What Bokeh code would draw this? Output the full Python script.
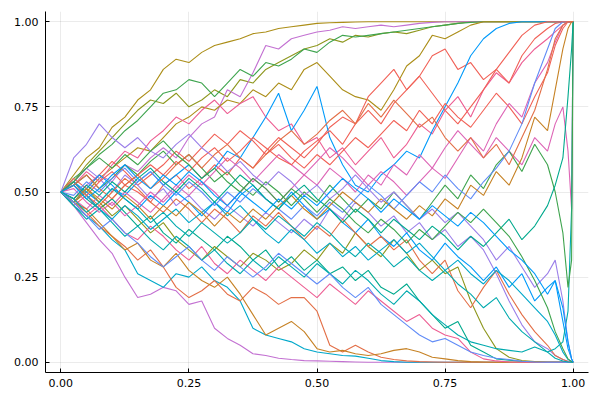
from bokeh.plotting import figure
from bokeh.models import Range1d, FixedTicker, PrintfTickFormatter
from bokeh.embed import file_html
from bokeh.resources import INLINE

# time grid (shared by every path)
t_grid = [0.0, 0.025, 0.05, 0.075, 0.1, 0.125, 0.15, 0.175, 0.2, 0.225, 0.25,
          0.275, 0.3, 0.325, 0.35, 0.375, 0.4, 0.425, 0.45, 0.475, 0.5, 0.525,
          0.55, 0.575, 0.6, 0.625, 0.65, 0.675, 0.7, 0.725, 0.75, 0.775, 0.8,
          0.825, 0.85, 0.875, 0.9, 0.925, 0.95, 0.965, 0.98, 0.99, 0.997, 1.0]

path_01 = [0.50,0.55,0.60,0.63,0.69,0.72,0.77,0.80,0.86,0.89,0.88,
           0.91,0.93,0.94,0.95,0.965,0.97,0.98,0.985,0.99,0.995,0.997,
           0.998,0.999,1,1,1,1,1,1,1,1,1,
           1,1,1,1,1,1,1,1,1,1,1]
path_02 = [0.50,0.53,0.58,0.62,0.66,0.70,0.74,0.77,0.76,0.79,0.75,
           0.77,0.80,0.78,0.83,0.82,0.86,0.88,0.90,0.92,0.93,0.95,
           0.94,0.96,0.955,0.965,0.97,0.965,0.975,0.985,0.99,0.995,1,
           1,1,1,1,1,1,1,1,1,1,1]
path_03 = [0.50,0.48,0.52,0.55,0.53,0.58,0.56,0.60,0.63,0.60,0.66,
           0.70,0.72,0.80,0.78,0.85,0.93,0.92,0.95,0.96,0.97,0.975,
           0.985,0.98,0.985,0.99,0.985,0.99,0.995,0.998,1,1,1,
           1,1,1,1,1,1,1,1,1,1,1]
path_04 = [0.50,0.54,0.57,0.61,0.64,0.68,0.71,0.75,0.79,0.80,0.83,
           0.82,0.78,0.82,0.86,0.84,0.88,0.87,0.89,0.92,0.91,0.94,
           0.96,0.955,0.96,0.965,0.97,0.975,0.98,0.985,0.99,0.995,0.998,
           1,1,1,1,1,1,1,1,1,1,1]
path_05 = [0.50,0.47,0.50,0.54,0.57,0.60,0.63,0.62,0.66,0.70,0.72,
           0.75,0.74,0.77,0.76,0.80,0.78,0.82,0.80,0.86,0.88,0.84,
           0.80,0.78,0.77,0.74,0.80,0.87,0.90,0.96,0.95,0.97,0.99,
           1,1,1,1,1,1,1,1,1,1,1]
path_06 = [0.50,0.52,0.56,0.53,0.58,0.62,0.60,0.65,0.68,0.72,0.70,
           0.74,0.77,0.73,0.76,0.78,0.72,0.68,0.70,0.64,0.66,0.60,
           0.63,0.58,0.62,0.66,0.60,0.64,0.70,0.67,0.74,0.78,0.72,
           0.80,0.85,0.82,0.88,0.92,0.95,0.97,0.99,1,1,1]
path_07 = [0.50,0.46,0.49,0.45,0.48,0.52,0.50,0.47,0.52,0.55,0.51,
           0.54,0.58,0.55,0.60,0.57,0.62,0.66,0.63,0.60,0.64,0.69,
           0.72,0.70,0.78,0.82,0.86,0.80,0.84,0.90,0.92,0.86,0.88,
           0.83,0.86,0.82,0.90,0.95,0.98,0.995,1,1,1,1]
path_08 = [0.50,0.53,0.50,0.47,0.51,0.49,0.53,0.56,0.52,0.55,0.58,
           0.54,0.57,0.62,0.60,0.66,0.72,0.79,0.68,0.74,0.81,0.66,
           0.58,0.52,0.50,0.55,0.58,0.62,0.60,0.68,0.75,0.82,0.90,
           0.95,0.98,0.995,1,1,1,1,1,1,1,1]
path_09 = [0.50,0.54,0.51,0.55,0.59,0.56,0.52,0.55,0.58,0.62,0.59,
           0.63,0.67,0.64,0.68,0.65,0.61,0.64,0.60,0.57,0.61,0.58,
           0.62,0.66,0.63,0.67,0.71,0.68,0.74,0.70,0.76,0.72,0.69,
           0.74,0.79,0.75,0.70,0.78,0.85,0.93,0.98,1,1,1]
path_10 = [0.50,0.48,0.45,0.49,0.46,0.50,0.47,0.44,0.48,0.52,0.49,
           0.53,0.50,0.46,0.50,0.54,0.51,0.47,0.51,0.55,0.52,0.57,
           0.54,0.50,0.55,0.52,0.58,0.55,0.61,0.57,0.63,0.68,0.64,
           0.60,0.66,0.62,0.58,0.66,0.62,0.70,0.75,0.62,0.45,1]
path_11 = [0.50,0.46,0.41,0.36,0.32,0.25,0.19,0.20,0.22,0.21,0.17,
           0.18,0.10,0.07,0.05,0.025,0.02,0.012,0.008,0.005,0.004,0.003,
           0.002,0.001,0,0,0,0,0,0,0,0,0,
           0,0,0,0,0,0,0,0,0,0,0]
path_12 = [0.50,0.46,0.43,0.40,0.36,0.33,0.26,0.24,0.22,0.26,0.25,
           0.28,0.24,0.22,0.18,0.10,0.08,0.07,0.06,0.04,0.03,0.025,
           0.02,0.018,0.012,0.005,0.002,0,0,0,0,0,0,
           0,0,0,0,0,0,0,0,0,0,0]
path_13 = [0.50,0.47,0.44,0.40,0.37,0.34,0.30,0.33,0.28,0.22,0.19,
           0.21,0.24,0.20,0.18,0.22,0.20,0.17,0.19,0.19,0.15,0.05,
           0.03,0.05,0.03,0.015,0.008,0.004,0.002,0.001,0,0,0,
           0,0,0,0,0,0,0,0,0,0,0]
path_14 = [0.50,0.47,0.45,0.41,0.37,0.33,0.35,0.30,0.28,0.32,0.27,
           0.24,0.22,0.25,0.20,0.14,0.08,0.10,0.12,0.09,0.04,0.03,
           0.035,0.025,0.02,0.025,0.035,0.04,0.03,0.015,0.01,0.005,0.002,
           0.001,0,0,0,0,0,0,0,0,0,0]
path_15 = [0.50,0.52,0.48,0.45,0.48,0.44,0.40,0.43,0.38,0.35,0.39,
           0.36,0.33,0.37,0.34,0.30,0.33,0.28,0.31,0.27,0.30,0.26,
           0.28,0.24,0.27,0.22,0.20,0.23,0.18,0.14,0.10,0.12,0.05,
           0.03,0.01,0.006,0.003,0.001,0,0,0,0,0,0]
path_16 = [0.50,0.48,0.51,0.47,0.43,0.46,0.42,0.38,0.41,0.36,0.33,
           0.30,0.34,0.31,0.28,0.32,0.30,0.27,0.29,0.33,0.30,0.35,
           0.32,0.38,0.34,0.31,0.36,0.32,0.27,0.30,0.26,0.28,0.18,
           0.10,0.04,0.015,0.005,0.002,0,0,0,0,0,0]
path_17 = [0.50,0.47,0.43,0.46,0.42,0.38,0.36,0.40,0.37,0.33,0.30,
           0.34,0.29,0.26,0.30,0.27,0.24,0.28,0.25,0.22,0.19,0.23,
           0.20,0.17,0.21,0.18,0.15,0.12,0.14,0.10,0.08,0.07,0.03,
           0.01,0.004,0.001,0,0,0,0,0,0,0,0]
path_18 = [0.50,0.53,0.57,0.54,0.50,0.55,0.52,0.48,0.51,0.46,0.49,
           0.45,0.42,0.46,0.43,0.40,0.44,0.41,0.38,0.42,0.39,0.45,
           0.42,0.47,0.44,0.40,0.43,0.38,0.41,0.36,0.39,0.34,0.37,
           0.33,0.26,0.18,0.11,0.06,0.04,0.02,0.008,0.003,0.001,0]
path_19 = [0.50,0.47,0.51,0.55,0.52,0.48,0.45,0.49,0.46,0.50,0.47,
           0.43,0.47,0.44,0.49,0.52,0.48,0.45,0.50,0.46,0.42,0.45,
           0.41,0.38,0.42,0.37,0.34,0.38,0.33,0.30,0.35,0.31,0.28,
           0.24,0.28,0.22,0.26,0.18,0.22,0.24,0.12,0.04,0.01,0]
path_20 = [0.50,0.53,0.49,0.46,0.50,0.54,0.51,0.47,0.44,0.48,0.45,
           0.41,0.45,0.42,0.38,0.43,0.40,0.44,0.40,0.36,0.40,0.37,
           0.42,0.38,0.34,0.37,0.33,0.36,0.30,0.26,0.30,0.21,0.16,
           0.22,0.27,0.20,0.14,0.09,0.05,0.02,0.008,0.002,0,0]
path_21 = [0.50,0.46,0.42,0.45,0.41,0.37,0.40,0.36,0.33,0.37,0.34,
           0.30,0.33,0.29,0.26,0.30,0.27,0.31,0.28,0.25,0.29,0.26,
           0.23,0.27,0.24,0.20,0.17,0.21,0.18,0.14,0.11,0.08,0.06,
           0.05,0.04,0.035,0.03,0.045,0.03,0.04,0.06,0.15,0.45,1]
path_22 = [0.50,0.52,0.55,0.51,0.54,0.58,0.55,0.59,0.62,0.58,0.61,
           0.57,0.53,0.56,0.52,0.49,0.53,0.50,0.46,0.50,0.47,0.52,
           0.48,0.44,0.48,0.45,0.50,0.46,0.42,0.47,0.52,0.48,0.55,
           0.51,0.58,0.62,0.56,0.64,0.58,0.50,0.38,0.22,0.30,1]
path_23 = [0.50,0.51,0.47,0.44,0.47,0.43,0.46,0.50,0.47,0.51,0.55,
           0.52,0.56,0.60,0.57,0.53,0.57,0.61,0.58,0.55,0.59,0.63,
           0.60,0.56,0.52,0.56,0.53,0.49,0.53,0.57,0.54,0.60,0.66,
           0.62,0.70,0.76,0.72,0.82,0.88,0.94,0.99,1,1,1]
path_24 = [0.50,0.53,0.49,0.45,0.42,0.46,0.43,0.39,0.42,0.45,0.41,
           0.44,0.47,0.43,0.46,0.42,0.38,0.35,0.39,0.36,0.32,0.35,
           0.31,0.34,0.30,0.33,0.36,0.32,0.35,0.31,0.27,0.30,0.26,
           0.23,0.27,0.24,0.20,0.16,0.12,0.08,0.03,0.008,0.002,0]
path_25 = [0.50,0.49,0.53,0.50,0.54,0.57,0.53,0.56,0.52,0.49,0.53,
           0.50,0.46,0.50,0.47,0.51,0.48,0.45,0.42,0.46,0.43,0.47,
           0.44,0.48,0.52,0.49,0.45,0.49,0.53,0.50,0.55,0.51,0.48,
           0.53,0.57,0.62,0.70,0.82,0.92,0.98,1,1,1,1]
path_26 = [0.50,0.52,0.49,0.53,0.56,0.52,0.55,0.58,0.55,0.59,0.56,
           0.60,0.63,0.59,0.62,0.66,0.63,0.60,0.58,0.62,0.65,0.68,
           0.64,0.70,0.74,0.70,0.76,0.80,0.84,0.79,0.74,0.70,0.75,
           0.80,0.86,0.91,0.96,0.99,1,1,1,1,1,1]
path_27 = [0.50,0.47,0.51,0.48,0.45,0.49,0.46,0.42,0.46,0.43,0.47,
           0.44,0.40,0.44,0.41,0.45,0.42,0.46,0.49,0.45,0.42,0.46,
           0.50,0.47,0.44,0.48,0.45,0.42,0.46,0.43,0.48,0.45,0.52,
           0.49,0.56,0.52,0.60,0.72,0.68,0.80,0.92,0.98,1,1]
path_28 = [0.50,0.60,0.64,0.70,0.66,0.63,0.66,0.62,0.60,0.64,0.67,
           0.63,0.60,0.56,0.59,0.55,0.52,0.56,0.53,0.49,0.52,0.48,
           0.51,0.55,0.51,0.47,0.50,0.46,0.42,0.45,0.41,0.44,0.40,
           0.36,0.30,0.34,0.28,0.22,0.26,0.30,0.18,0.06,0.01,0]
path_29 = [0.50,0.48,0.52,0.49,0.53,0.50,0.54,0.57,0.53,0.50,0.54,
           0.51,0.47,0.51,0.55,0.52,0.48,0.45,0.49,0.52,0.48,0.45,
           0.41,0.45,0.42,0.38,0.42,0.39,0.36,0.40,0.37,0.33,0.37,
           0.34,0.38,0.42,0.36,0.40,0.46,0.52,0.60,0.78,0.92,1]
path_30 = [0.50,0.47,0.43,0.39,0.42,0.38,0.35,0.31,0.28,0.31,0.34,
           0.30,0.27,0.31,0.28,0.25,0.28,0.32,0.29,0.26,0.23,0.26,
           0.22,0.19,0.22,0.17,0.14,0.11,0.08,0.06,0.07,0.05,0.03,
           0.02,0.012,0.008,0.003,0.001,0,0,0,0,0,0]
path_31 = [0.50,0.52,0.55,0.51,0.48,0.52,0.55,0.51,0.54,0.58,0.61,
           0.57,0.61,0.64,0.60,0.57,0.61,0.65,0.68,0.64,0.67,0.71,
           0.74,0.70,0.76,0.72,0.77,0.73,0.69,0.72,0.66,0.62,0.66,
           0.60,0.64,0.58,0.66,0.74,0.86,0.95,0.99,1,1,1]
path_32 = [0.50,0.48,0.44,0.47,0.51,0.48,0.45,0.41,0.44,0.40,0.37,
           0.41,0.38,0.35,0.38,0.42,0.39,0.43,0.40,0.37,0.41,0.38,
           0.34,0.31,0.35,0.32,0.28,0.31,0.27,0.24,0.27,0.23,0.20,
           0.16,0.19,0.13,0.09,0.06,0.03,0.012,0.004,0.001,0,0]
path_33 = [0.50,0.53,0.57,0.60,0.57,0.61,0.58,0.62,0.65,0.61,0.58,
           0.54,0.57,0.53,0.50,0.54,0.51,0.47,0.51,0.48,0.44,0.48,
           0.45,0.41,0.38,0.42,0.39,0.35,0.39,0.36,0.40,0.44,0.41,
           0.45,0.41,0.37,0.31,0.24,0.16,0.09,0.04,0.01,0.002,0]
path_34 = [0.50,0.52,0.48,0.51,0.55,0.58,0.54,0.51,0.55,0.52,0.56,
           0.53,0.49,0.46,0.50,0.47,0.44,0.48,0.45,0.49,0.46,0.50,
           0.54,0.51,0.48,0.44,0.48,0.45,0.42,0.46,0.43,0.40,0.44,
           0.41,0.37,0.33,0.30,0.26,0.20,0.24,0.16,0.06,0.01,0]

x_ticks = [0.0, 0.25, 0.5, 0.75, 1.0]
y_ticks = [0.0, 0.25, 0.5, 0.75, 1.0]

paths = [path_01, path_02, path_03, path_04, path_05, path_06, path_07, path_08,
         path_09, path_10, path_11, path_12, path_13, path_14, path_15, path_16,
         path_17, path_18, path_19, path_20, path_21, path_22, path_23, path_24,
         path_25, path_26, path_27, path_28, path_29, path_30, path_31, path_32,
         path_33, path_34]

# styling: colours per path (Plots.jl default palette)
BLUE, ORANGE, GREEN, PURPLE = "#009AFA", "#E36F47", "#3EA44E", "#C371D2"
OLIVE, TEAL, PINK, BROWN = "#AC8E18", "#00AAAE", "#ED5E93", "#C68225"
TEALG, OLIVEG, CYAN, LAV = "#00A98D", "#8E971E", "#00A8CA", "#9B7FE9"
PERI, SALMON, MAGENTA = "#618CF7", "#F16157", "#DD65B6"
line_colors = [OLIVE, OLIVEG, PURPLE, GREEN, OLIVE, PINK, SALMON, BLUE,
               SALMON, MAGENTA, PURPLE, CYAN, ORANGE, BROWN, TEALG, OLIVEG,
               PINK, LAV, BLUE, ORANGE, TEAL, GREEN, MAGENTA, CYAN,
               PERI, SALMON, BROWN, LAV, TEALG, PERI, ORANGE, TEAL,
               GREEN, BLUE]

p = figure(width=592, height=392, output_backend="svg", toolbar_location=None,
           x_range=Range1d(-0.03, 1.03), y_range=Range1d(-0.03, 1.03),
           min_border_left=45, min_border_right=4, min_border_top=11,
           min_border_bottom=20)
p.background_fill_color = "white"
p.border_fill_color = "white"
p.outline_line_color = None

for ys, col in zip(paths, line_colors):
    p.line(t_grid, ys, line_color=col, line_width=1.1)

for ax in (p.xaxis, p.yaxis):
    ax.formatter = PrintfTickFormatter(format="%.2f")
    ax.major_tick_in = 4
    ax.major_tick_out = 0
    ax.minor_tick_line_color = None
    ax.axis_line_color = "black"
    ax.axis_line_width = 1
    ax.major_tick_line_color = "black"
    ax.major_label_text_font = "DejaVu Sans"
    ax.major_label_text_font_size = "11px"
    ax.major_label_text_color = "black"
p.xaxis.ticker = FixedTicker(ticks=x_ticks)
p.yaxis.ticker = FixedTicker(ticks=y_ticks)
p.xaxis.major_label_standoff = 6
p.yaxis.major_label_standoff = 7

p.grid.grid_line_color = "black"
p.grid.grid_line_alpha = 0.08
p.grid.grid_line_width = 1

open("out.html", "w").write(file_html(p, INLINE))
